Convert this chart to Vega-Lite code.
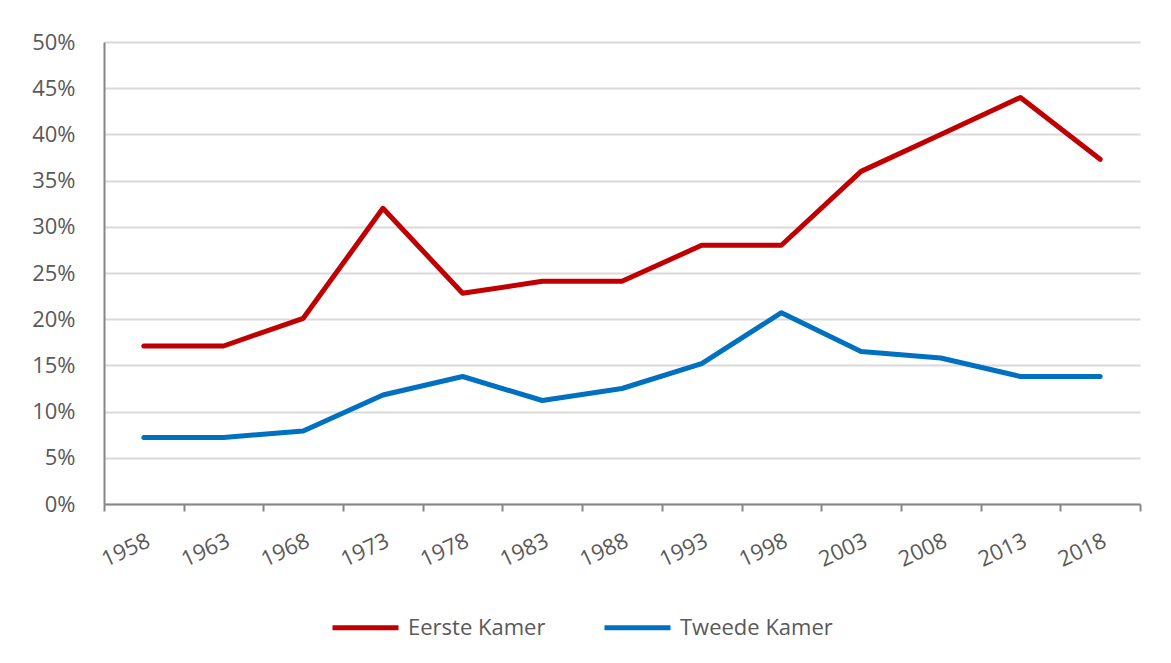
{
  "$schema": "https://vega.github.io/schema/vega-lite/v6.json",
  "width": 1036,
  "height": 462,
  "autosize": {"type": "none"},
  "padding": {"left": 104, "top": 42, "right": 31, "bottom": 159},
  "background": "white",
  "config": {
    "view": {"stroke": null},
    "font": "Open Sans"
  },
  "data": {
    "values": [
      {"year": 1958, "kamer": "Eerste Kamer", "pct": 0.171},
      {"year": 1963, "kamer": "Eerste Kamer", "pct": 0.171},
      {"year": 1968, "kamer": "Eerste Kamer", "pct": 0.201},
      {"year": 1973, "kamer": "Eerste Kamer", "pct": 0.320},
      {"year": 1978, "kamer": "Eerste Kamer", "pct": 0.228},
      {"year": 1983, "kamer": "Eerste Kamer", "pct": 0.241},
      {"year": 1988, "kamer": "Eerste Kamer", "pct": 0.241},
      {"year": 1993, "kamer": "Eerste Kamer", "pct": 0.280},
      {"year": 1998, "kamer": "Eerste Kamer", "pct": 0.280},
      {"year": 2003, "kamer": "Eerste Kamer", "pct": 0.360},
      {"year": 2008, "kamer": "Eerste Kamer", "pct": 0.400},
      {"year": 2013, "kamer": "Eerste Kamer", "pct": 0.440},
      {"year": 2018, "kamer": "Eerste Kamer", "pct": 0.373},
      {"year": 1958, "kamer": "Tweede Kamer", "pct": 0.072},
      {"year": 1963, "kamer": "Tweede Kamer", "pct": 0.072},
      {"year": 1968, "kamer": "Tweede Kamer", "pct": 0.079},
      {"year": 1973, "kamer": "Tweede Kamer", "pct": 0.118},
      {"year": 1978, "kamer": "Tweede Kamer", "pct": 0.138},
      {"year": 1983, "kamer": "Tweede Kamer", "pct": 0.112},
      {"year": 1988, "kamer": "Tweede Kamer", "pct": 0.125},
      {"year": 1993, "kamer": "Tweede Kamer", "pct": 0.152},
      {"year": 1998, "kamer": "Tweede Kamer", "pct": 0.207},
      {"year": 2003, "kamer": "Tweede Kamer", "pct": 0.165},
      {"year": 2008, "kamer": "Tweede Kamer", "pct": 0.158},
      {"year": 2013, "kamer": "Tweede Kamer", "pct": 0.138},
      {"year": 2018, "kamer": "Tweede Kamer", "pct": 0.138}
    ]
  },
  "mark": {"type": "line", "strokeWidth": 5, "strokeCap": "round", "strokeJoin": "round"},
  "encoding": {
    "x": {
      "field": "year",
      "type": "quantitative",
      "scale": {"domain": [1955.5, 2020.5], "nice": false, "zero": false},
      "axis": {
        "title": null,
        "grid": false,
        "values": [1955.5, 1960.5, 1965.5, 1970.5, 1975.5, 1980.5, 1985.5, 1990.5, 1995.5, 2000.5, 2005.5, 2010.5, 2015.5, 2020.5],
        "labelExpr": "datum.value < 2020 ? toString(datum.value + 2.5) : ''",
        "labelOverlap": false,
        "labelFlush": false,
        "labelBound": false,
        "labelAngle": -25,
        "labelAlign": "right",
        "labelBaseline": "top",
        "labelOffset": 40,
        "labelPadding": 19,
        "labelFontSize": 22,
        "labelColor": "#595959",
        "domainColor": "#868686",
        "domainWidth": 2,
        "tickColor": "#868686",
        "tickWidth": 2,
        "tickSize": 7
      }
    },
    "y": {
      "field": "pct",
      "type": "quantitative",
      "scale": {"domain": [0, 0.5], "nice": false},
      "axis": {
        "title": null,
        "values": [0, 0.05, 0.1, 0.15, 0.2, 0.25, 0.3, 0.35, 0.4, 0.45, 0.5],
        "format": ".0%",
        "ticks": false,
        "labelPadding": 29,
        "labelFontSize": 22,
        "labelColor": "#595959",
        "domainColor": "#868686",
        "domainWidth": 2,
        "gridColor": "#D9D9D9",
        "gridWidth": 2
      }
    },
    "color": {
      "field": "kamer",
      "type": "nominal",
      "scale": {"domain": ["Eerste Kamer", "Tweede Kamer"], "range": ["#C00000", "#0070C0"]},
      "legend": {
        "title": null,
        "orient": "none",
        "legendX": 226,
        "legendY": 550,
        "direction": "horizontal",
        "symbolType": "stroke",
        "symbolStrokeWidth": 5,
        "symbolSize": 4356,
        "labelFontSize": 22,
        "labelColor": "#595959",
        "labelLimit": 300,
        "labelOffset": 7,
        "columnPadding": 48
      }
    }
  }
}
